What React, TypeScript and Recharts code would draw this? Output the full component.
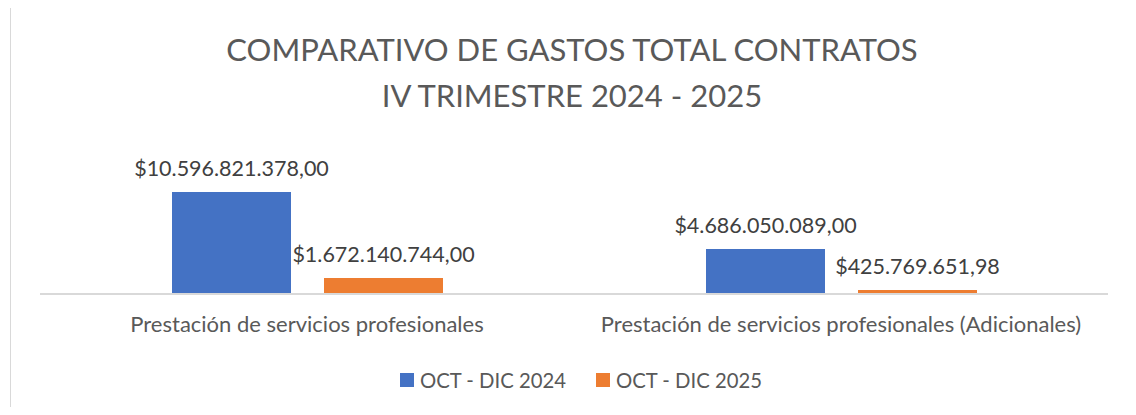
import { BarChart, Bar, XAxis, YAxis, Legend, LabelList } from "recharts"

const categories = [
  "Prestación de servicios profesionales",
  "Prestación de servicios profesionales (Adicionales)",
]
const gastos2024 = [10596821378.0, 4686050089.0]
const gastos2025 = [1672140744.0, 425769651.98]
const seriesNames = ["OCT - DIC 2024", "OCT - DIC 2025"]
const seriesColors = ["#4472C4", "#ED7D31"]
const titleLines = ["COMPARATIVO DE GASTOS TOTAL CONTRATOS", "IV TRIMESTRE 2024 - 2025"]

const data = categories.map((name, i) => ({ name, v2024: gastos2024[i], v2025: gastos2025[i] }))

const FONT = "Lato, 'Open Sans', sans-serif"

function money(v: any) {
  const [int, dec] = Number(v).toFixed(2).split(".")
  return "$" + int.replace(/\B(?=(\d{3})+(?!\d))/g, ".") + "," + dec
}

function LegendBox(props: any) {
  const items = props.payload || []
  return (
    <div
      style={{
        display: "flex",
        justifyContent: "center",
        gap: 30,
        height: 24,
        lineHeight: "24px",
        paddingLeft: 14,
      }}
    >
      {items.map((it: any) => (
        <div key={it.value} style={{ display: "flex", alignItems: "center", gap: 6 }}>
          <span style={{ width: 14, height: 14, background: it.color, display: "inline-block" }} />
          <span style={{ color: "#595959", fontSize: 20.3, fontFamily: FONT }}>{it.value}</span>
        </div>
      ))}
    </div>
  )
}

export default function App() {
  return (
    <div style={{ position: "relative", width: 1136, height: 415, margin: -8, overflow: "hidden", background: "#fff" }}>
      <div
        style={{
          position: "absolute",
          left: 10,
          top: 5,
          width: 1160,
          height: 440,
          border: "1.5px solid #d9d9d9",
        }}
      />
      <div
        style={{
          position: "absolute",
          left: 0,
          top: 26,
          width: 1144,
          textAlign: "center",
          fontFamily: FONT,
          fontSize: 31,
          lineHeight: "46px",
          color: "#595959",
        }}
      >
        {titleLines.map((t) => (
          <div key={t}>{t}</div>
        ))}
      </div>
      <div style={{ position: "absolute", left: 0, top: 0 }}>
        <BarChart
          width={1136}
          height={415}
          data={data}
          margin={{ top: 140, right: 28, left: 40, bottom: 23 }}
          barGap={33}
          barSize={119}
        >
          <XAxis
            dataKey="name"
            height={74}
            axisLine={{ stroke: "#d9d9d9", strokeWidth: 2 }}
            tickLine={false}
            tick={{ fill: "#595959", fontSize: 22, fontFamily: FONT, dy: 14 }}
            interval={0}
          />
          <YAxis hide domain={[0, 16000000000]} />
          <Legend verticalAlign="bottom" content={<LegendBox />} />
          <Bar dataKey="v2024" name={seriesNames[0]} fill={seriesColors[0]} isAnimationActive={false}>
            <LabelList
              dataKey="v2024"
              position="top"
              offset={16}
              formatter={money}
              style={{ fill: "#404040", fontSize: 21.5, fontFamily: FONT }}
            />
          </Bar>
          <Bar dataKey="v2025" name={seriesNames[1]} fill={seriesColors[1]} isAnimationActive={false}>
            <LabelList
              dataKey="v2025"
              position="top"
              offset={16}
              formatter={money}
              style={{ fill: "#404040", fontSize: 21.5, fontFamily: FONT }}
            />
          </Bar>
        </BarChart>
      </div>
    </div>
  )
}
